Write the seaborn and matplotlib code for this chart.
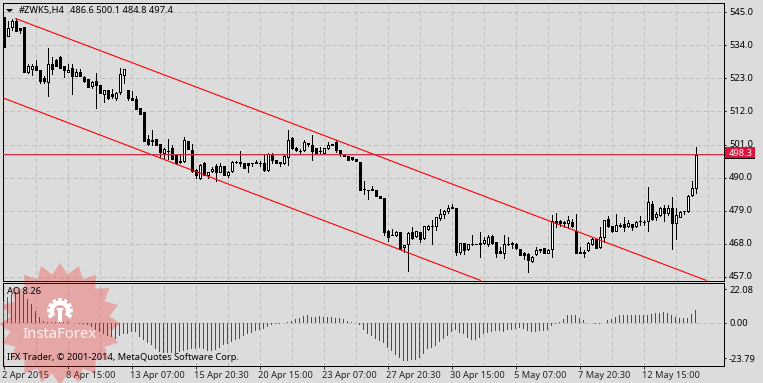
# Recreate the #ZWK5 H4 MetaTrader chart with AO sub window
import numpy as np
import pandas as pd
import matplotlib
matplotlib.use('Agg')
import matplotlib.pyplot as plt
from matplotlib.patches import Polygon, Rectangle
from matplotlib.transforms import ScaledTranslation
import seaborn as sns

# Candle data
opens = [543.4,537,540.1,542.3,539.9,540.1,525.1,526.2,527.3,525.7,
         523,521.8,527.9,529.2,530.1,527,525.1,526.4,523.9,525,
         523.4,522.8,520.6,522,520.7,517.7,519.2,517.7,516.6,518.4,
         524.1,519,516.6,516.2,513.2,511.9,502.9,502.6,502.9,501.2,
         498.3,499,499.9,497.7,495.4,495.4,502.3,499.2,492.6,489.7,
         494.8,490.7,492.1,493.7,491.9,493.8,490.7,492.1,495.3,495.2,
         494.8,494.8,494.9,495.2,494.9,494.8,492.5,497.7,495.9,495.2,
         495,496.8,503,499.7,499,499.2,501.6,501,499.7,499,
         498.1,499.7,501.2,501.7,499.2,497.7,497.1,496.7,496.3,495.3,
         486.3,485.9,486.1,486,483.7,483.2,472.3,471,470.8,471.7,
         466.7,467.7,471.9,470.4,471.7,469.7,473,473.9,474,476.5,
         477.7,479,479.9,479.9,465.2,468.1,466.1,467.8,467.9,468.2,
         468.3,467.7,470.6,468.5,465.4,464.8,467.9,468.3,467.9,466.2,
         464.8,464.6,462.3,464.6,466,466.6,465,466.2,475.4,475.4,
         475.1,474.8,475.2,472.1,465.1,465.2,465.7,467.9,469.6,466.8,
         470.3,476.3,473.7,472.3,473.9,474.6,473.7,474.6,473.9,475.4,
         475.3,475.4,481.2,476.8,477.4,479.9,478.1,479.9,475,477,
         478.7,478.8,484.1,486.6]
highs = [543.4,542.3,542.9,542.9,539.9,540.1,527.9,527.9,529.2,525.7,
         523.7,533.2,530.1,529.4,530.4,527,527.9,527.7,526.2,526.2,
         523.7,522.8,522.3,524.9,520.7,519.2,519.2,519.6,518.4,526.6,
         526.2,519,518.8,517.3,513.2,511.9,504.3,505.7,502.9,501.2,
         499.7,502.9,501,497.7,497.9,503.4,502.3,501.2,492.9,494.6,
         495.1,492,493.4,494.6,494.8,493.8,492.1,495.4,495.4,499,
         494.8,494.8,495,495.9,495.6,497.9,498.1,498.1,495.9,495.2,
         497.7,505.7,503.4,500.3,499.4,502.6,501.6,504,499.7,500.3,
         499.9,501.7,501.2,502.6,499.2,497.7,497.1,497,496.3,495.3,
         488.8,485.9,487.3,486,483.7,483.2,472.5,473,472.3,471.7,
         467.5,471.8,473.4,472.3,471.7,473.9,474.3,475.7,477,479.5,
         479.2,480.8,481.2,479.9,468.3,468.3,467.9,471,468,471.7,
         470.1,471,470.8,468.5,467,471,470.1,468.4,468.1,466.2,
         465.2,464.8,463.7,466.8,466.3,466.6,466.3,477.4,478.3,475.7,
         475.4,477.3,476.2,477.7,466.8,465.7,468.6,469.9,469.6,473.4,
         475.9,477.3,473.9,477.7,474.8,477,475.7,474.6,475.4,477.2,
         475.7,487,482.3,478.6,480.1,480.8,480.8,483.4,479.7,479,
         479,484.3,489,500.1]
lows = [533.4,537,539.2,538.8,538.3,525.1,524.8,524.3,525.7,521.4,
        521.4,517.3,524.6,527,526.6,523.4,525,517.7,523.7,523.7,
        521.9,520.3,519.9,513.1,518.1,515.1,516.2,516.6,515.7,517.9,
        521.4,515.7,515.7,512.9,511.2,502.3,501,501,500.8,496.8,
        496.6,496.1,496.1,494.6,495,495.2,499.4,491.8,489.9,489.4,
        490.7,489.9,491.9,489,491.8,490.7,490.3,492,495,494,
        493.1,491.8,493.7,494.8,494,492.3,492.3,494.8,494.8,493.9,
        494.6,494.3,499.6,498.8,498.1,499,500.6,495.7,498.1,497.9,
        497.9,499.4,500.9,498.4,497.2,497.1,495.7,495.7,495.4,485.7,
        484.5,482.8,485.9,483.7,483.2,471,469,470.8,470.5,466.3,
        465.2,459,469.4,470.1,468.4,469.4,472.5,467.9,472.5,475.9,
        476.5,478.1,479.9,464.1,464.6,464.6,465.9,467.4,467.7,463.4,
        467.9,467.2,467.9,463.4,464.8,463.2,467.4,466.6,466.3,464.1,
        463,458.4,461.8,464.3,465.2,464.8,464.8,463.4,473.4,474,
        473.4,473.2,473.4,464.8,464.8,463.4,465.4,467.4,466.6,466.6,
        468.4,473.4,471.7,472.1,473.4,472.1,473.4,472.6,473.4,474.1,
        474.1,472.3,475.7,475.7,477.2,475.4,477.4,466.1,469.4,476.8,
        477.9,478.6,483.9,484.8]
closes = [533.4,539.9,542.3,538.8,539.2,525.1,527,527,525.9,522.3,
          522.1,527.9,526.1,527,526.6,525.7,525.9,523.7,525,523.7,
          522.1,520.3,521.7,520.7,518.1,519,516.6,517,518.1,524.6,
          526.2,516.6,515.9,512.9,511.2,502.3,501.2,502.1,500.8,498.6,
          499.4,498.8,496.3,494.8,495.3,502.6,499.4,492.1,490.7,494.3,
          491,491.8,493,491.7,494,491,491.8,495.1,495.2,494.8,
          493.1,494.3,494.7,495,494.7,492.5,497.9,495.9,494.8,495,
          497.2,502.6,499.9,499.2,498.9,501.9,501.1,499,498.3,498.9,
          499.7,501,500.9,499.2,497.7,497.1,495.7,496.1,495.4,485.7,
          486.2,485.8,486,483.7,483.2,471.7,470.1,470.8,471.9,466.3,
          467.5,471.6,469.9,472.1,469.4,473.7,474,474,476.8,477.7,
          478.8,480,480.3,465.2,468.1,465.7,467.7,467.9,467.8,467.8,
          469.2,470.3,468.1,464.8,464.8,467.9,467.8,467.7,466.6,464.1,
          464.3,462.6,463.4,465.9,466.1,464.8,465.9,475.4,474.8,474.8,
          475,475.7,473.7,464.8,465,464.8,468.3,469.4,466.6,470.1,
          475.7,473.7,472.1,474.1,474.3,473.4,475,473.4,475.2,475.5,
          475.2,481.7,476.3,477.9,479.9,478.1,479.7,475,477.4,478.6,
          478.8,484,486.6,497.4]

# Awesome Oscillator values
ao_values = [14.2,16.9,19.1,20.2,21.3,19.1,15.8,12.4,8,3.6,
             0.7,0.5,0.3,0.1,0.1,0.1,0.2,-0.2,-0.4,-0.7,
             -0.9,-2,-3.1,-5.3,-6.4,-7.6,-8.7,-9.8,-10.7,-8.9,
             -8,-7.6,-6.4,-6.3,-9.8,-12,-13.8,-15.3,-17.6,-19.8,
             -20.2,-20.3,-20.3,-20.4,-19.8,-19.1,-18.2,-17.8,-17.7,-17.3,
             -17.5,-19.1,-19.3,-18.2,-16.9,-15.3,-14.2,-13.1,-12,-10.9,
             -9.3,-8,-6.7,-5.8,-5.3,-4.2,-2.7,-2,-1.3,-0.7,
             -0.4,0.2,1.3,2.4,3.3,4.4,4.7,4,3.9,4.2,
             3.6,3.5,3.4,3.3,2.7,2.6,1.3,0.1,-0.2,-2,
             -4.7,-7.6,-9.3,-11.3,-12.4,-13.8,-16.7,-19.1,-21.8,-24,
             -25.8,-26,-25.3,-24.7,-23.6,-21.3,-18,-17.3,-15.6,-12.7,
             -10.9,-8.7,-6.4,-5.3,-7.1,-8,-10.2,-12,-11.6,-10.2,
             -8,-7.1,-6.4,-6,-5.9,-6.1,-5.1,-4.7,-4.2,-3.8,
             -4.2,-5.6,-6.2,-6.1,-6,-5.6,-4.7,-2.2,-0.9,0.1,
             2.2,4.9,5.3,4.9,2.9,1.6,0,-0.2,-1.3,-0.7,
             -0.2,1.6,2.2,3.6,4.7,4.9,5,4.9,4.8,5,
             4.7,5.3,6,6.2,6.4,6.9,6.4,5.1,3.8,3.1,
             3,3.3,5.6,8.26]

# Channel lines (bar index, price)
upper_x = [3, 175.7]
upper_y = [543, 455.7]
lower_x = [-0.25, 119.25]
lower_y = [516.6, 455.7]

bid_price = 497.8
ask_price = 497.5

price_ticks = [545, 534, 523, 512, 501, 490, 479, 468, 457]
ao_ticks = [22.08, 0, -23.79]
ao_tick_labels = ['22.08', '0.00', '-23.79']
time_ticks = [0, 16, 32, 48, 64, 80, 96, 112, 128, 144, 160]
time_labels = ['2 Apr 2015', '8 Apr 15:00', '13 Apr 07:00', '15 Apr 20:30', '20 Apr 15:00',
               '23 Apr 07:00', '27 Apr 20:30', '30 Apr 15:00', '5 May 07:00', '7 May 20:30',
               '12 May 15:00']

W, H = 763, 383
BG = '#DCDCDC'
GRID = '#BEBEBE'
PX = 0.72  # one pixel in points at dpi 100
FS = 6.7

sns.set_theme(style='ticks', rc={'axes.facecolor': BG, 'figure.facecolor': BG, 'savefig.facecolor': BG})
plt.rcParams['font.family'] = ['Noto Sans', 'DejaVu Sans']


def pane(top, bottom):
    return [2.5 / W, 1 - bottom / H, 721 / W, (bottom - top) / H]


fig = plt.figure(figsize=(W / 100, H / 100), dpi=100)
ax = fig.add_axes(pane(2.5, 280.5))
ax2 = fig.add_axes(pane(282.5, 365.5))

df = pd.DataFrame({'bar': np.arange(len(closes)), 'open': opens, 'high': highs, 'low': lows, 'close': closes})
df['up'] = df['close'] >= df['open']

ao = pd.DataFrame({'bar': np.arange(len(ao_values)), 'ao': ao_values})
ao['dir'] = np.where(ao['ao'].diff().fillna(1) >= 0, 'up', 'down')

# Candles
ax.vlines(df['bar'], df['low'], df['high'], color='black', lw=PX, antialiased=False, zorder=3)
ax.bar(df['bar'], (df['close'] - df['open']).abs(), bottom=df[['open', 'close']].min(axis=1), width=0.5,
       color=np.where(df['up'], 'white', 'black'), edgecolor='black', linewidth=PX, antialiased=False, zorder=4)

# Channel
sns.lineplot(x=upper_x, y=upper_y, ax=ax, color='#FF0000', lw=0.8, zorder=5)
sns.lineplot(x=lower_x, y=lower_y, ax=ax, color='#FF0000', lw=0.8, zorder=5)

# Price lines
ax.axhline(ask_price, color='#B4B4B4', lw=PX, antialiased=False, zorder=2)
ax.axhline(bid_price, color='#C8324B', lw=PX, antialiased=False, zorder=6)

# AO histogram
sns.barplot(data=ao, x='bar', y='ao', hue='dir', hue_order=['up', 'down'], palette={'up': '#0A7D0A', 'down': '#F00000'},
            native_scale=True, dodge=False, width=0.25, saturation=1, legend=False, errorbar=None, ax=ax2, zorder=3)
for bar in ax2.patches:
    bar.set_edgecolor('none')
    bar.set_linewidth(0)
    bar.set_antialiased(False)
ax2.set_xlabel('')
ax2.set_ylabel('')

# Axes, ticks, grid
ax.set_xlim(-0.25, 180)
ax.set_ylim(455.67, 548.33)
ax2.set_xlim(-0.25, 180)
ax2.set_ylim(-28.67, 26.67)

for a in (ax, ax2):
    a.yaxis.tick_right()
    a.tick_params(axis='y', length=1.5, width=PX, pad=2.5, labelsize=FS, color='black', labelcolor='black')
    for s in a.spines.values():
        s.set_visible(True)
        s.set_linewidth(PX)
        s.set_color('black')
    a.set_axisbelow(True)

ax.set_yticks(price_ticks)
ax.set_yticklabels([f'{p:.1f}' for p in price_ticks])
ax.set_xticks(np.arange(8, 180, 8))
ax.tick_params(axis='x', length=0, labelbottom=False)
ax.grid(True, color=GRID, lw=PX, ls=(0, (4, 3)))

ax2.set_yticks(ao_ticks)
ax2.set_yticklabels(ao_tick_labels)
ax2.set_xticks(time_ticks)
ax2.set_xticklabels(time_labels, ha='left')
ax2.set_xticks(np.arange(8, 180, 16), minor=True)
ax2.tick_params(axis='x', which='major', length=2.2, width=PX, pad=2, labelsize=FS)
ax2.tick_params(axis='x', which='minor', length=0)
ax2.grid(True, axis='x', which='both', color=GRID, lw=PX, ls=(0, (4, 3)))
ax2.axhline(0, color=GRID, lw=PX, ls=(0, (4, 3)), zorder=1)
shift = ScaledTranslation(-1.0 / 100, 0, fig.dpi_scale_trans)
for lab in ax2.get_xticklabels():
    lab.set_transform(lab.get_transform() + shift)
up_shift = ScaledTranslation(0, 1.0 / 100, fig.dpi_scale_trans)
for lab in ax.get_yticklabels():
    lab.set_transform(lab.get_transform() + up_shift)


def fx(px):
    return px / W


def fy(py):
    return 1 - py / H


def ftext(px, py, s, **kw):
    fig.text(fx(px), fy(py), s, fontsize=kw.pop('fontsize', FS), va='center', zorder=kw.pop('zorder', 5), **kw)


def poly(points, **kw):
    pts = [(px / W, 1 - py / H) for px, py in points]
    fig.add_artist(Polygon(pts, closed=True, transform=fig.transFigure, **kw))


# InstaForex watermark (pixel layout, drawn with the figure on top of the panes)
cx, cy, teeth = 60, 324, 20
angles = np.linspace(0, 2 * np.pi, 2 * teeth, endpoint=False)
radii = np.where(np.arange(2 * teeth) % 2 == 0, 61, 50)
poly(list(zip(cx + radii * np.cos(angles), cy + radii * np.sin(angles))),
     facecolor=(1, 0.1, 0.1), alpha=0.28, edgecolor='none', zorder=2)

gx, gy = 60, 311
g_ang = np.linspace(np.pi * 0.85, np.pi * 2.15, 9)
for t in g_ang:
    a0, a1 = t - 0.16, t + 0.16
    poly([(gx + 9 * np.cos(a0), gy + 9 * np.sin(a0)), (gx + 13 * np.cos(a0), gy + 13 * np.sin(a0)),
          (gx + 13 * np.cos(a1), gy + 13 * np.sin(a1)), (gx + 9 * np.cos(a1), gy + 9 * np.sin(a1))],
         facecolor='white', edgecolor='none', zorder=3)
outer = [(gx + 10.5 * np.cos(t), gy + 10.5 * np.sin(t)) for t in np.linspace(np.pi * 0.8, np.pi * 2.2, 30)]
inner = [(gx + 6 * np.cos(t), gy + 6 * np.sin(t)) for t in np.linspace(np.pi * 2.2, np.pi * 0.8, 30)]
poly(outer + inner, facecolor='white', edgecolor='none', zorder=3)
poly([(gx - 1.5, gy - 2), (gx + 1.5, gy - 2), (gx + 1.5, gy + 11), (gx - 1.5, gy + 11)], facecolor='white', edgecolor='none', zorder=3)
poly([(gx - 4, gy - 3), (gx + 4, gy - 3), (gx + 1.5, gy + 1), (gx - 1.5, gy + 1)], facecolor='white', edgecolor='none', zorder=3)
ftext(22, 335, 'InstaForex', color='white', fontsize=10.7, alpha=0.85, zorder=4)

# Header, indicator label, copyright
poly([(6, 9), (13, 9), (9.5, 12.5)], facecolor='black', edgecolor='none', zorder=5)
ftext(19, 10.5, '#ZWK5,H4', color='black')
ftext(70, 10.5, '486.6 500.1 484.8 497.4', color='black')
ftext(7, 291.5, 'AO 8.26', color='black')
ftext(7, 357.5, 'IFX Trader, © 2001-2014, MetaQuotes Software Corp.', color='black')

# Last price box
fig.add_artist(Rectangle((fx(725), fy(158)), 30 / W, 11 / H, transform=fig.transFigure, facecolor='#DC143C', edgecolor='none', zorder=4))
fig.add_artist(Rectangle((fx(725), fy(159.3)), 30 / W, 1.3 / H, transform=fig.transFigure, facecolor='black', edgecolor='none', zorder=4))
ftext(729, 153, '498.3', color='white', zorder=5)

plt.savefig('out.png', dpi=100)
